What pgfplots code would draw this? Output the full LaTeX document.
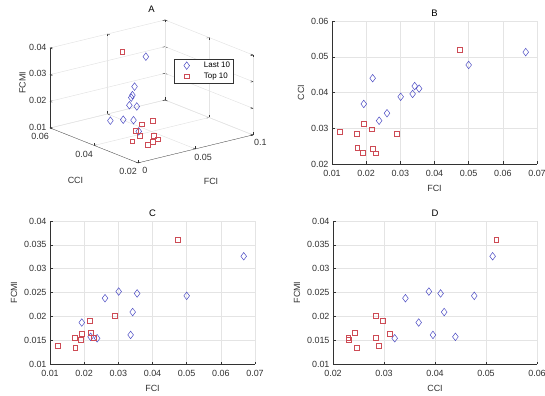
\documentclass[border=0pt]{standalone}
\usepackage{fontspec}
\setmainfont{Liberation Sans}
\usepackage{pgfplots}
\usepackage{pgfplotstable}
\pgfplotsset{compat=1.18}
\definecolor{mblue}{RGB}{75,75,195}
\definecolor{mred}{RGB}{205,75,85}
\definecolor{gridgray}{RGB}{228,228,228}
\definecolor{axgray}{RGB}{50,50,50}

\pgfplotstableread{
fci cci fcmi
0.0219 0.0440 0.0157
0.0193 0.0368 0.0187
0.0238 0.0321 0.0154
0.0261 0.0342 0.0238
0.0301 0.0388 0.0252
0.0336 0.0396 0.0161
0.0342 0.0418 0.0209
0.0355 0.0411 0.0248
0.0500 0.0477 0.0243
0.0667 0.0513 0.0326
}\lastten

\pgfplotstableread{
fci cci fcmi
0.0123 0.0290 0.0139
0.0173 0.0284 0.0155
0.0194 0.0312 0.0163
0.0216 0.0297 0.0191
0.0174 0.0246 0.0134
0.0190 0.0231 0.0151
0.0219 0.0242 0.0165
0.0229 0.0230 0.0155
0.0289 0.0284 0.0201
0.0475 0.0520 0.0361
}\topten

\pgfplotsset{
  common/.style={
    grid=major, grid style={draw=gridgray, line width=0.5pt},
    tick align=inside, major tick length=2.5bp,
    every tick/.style={axgray, line width=0.4pt},
    tick label style={font=\fontsize{9}{10}\selectfont, text=axgray},
    label style={font=\fontsize{9}{10}\selectfont, text=axgray},
    title style={font=\fontsize{9.5}{10}\selectfont, text=black},
    /pgf/number format/assume math mode=true,
    scaled ticks=false,
    tick label style={/pgf/number format/fixed, /pgf/number format/precision=3},
  },
  flat/.style={
    common,
    scale only axis, width=205bp, height=143bp,
    axis x line*=bottom, axis y line*=left,
    axis line style={draw=axgray, line width=0.5pt},
    title style={yshift=-5bp},
    xticklabel style={yshift=-3bp},
    xlabel style={yshift=-2bp},
  },
  lastm/.style={only marks, mark=diamond, mark size=3.8bp, mark options={draw=mblue, line width=0.5pt, fill=none}},
  topm/.style={only marks, mark=square, mark size=2.4bp, mark options={draw=mred, line width=0.5pt, fill=none}},
  wideleg/.style={legend image code/.code={\path (0bp,0bp) (26bp,0bp); \draw[##1] plot coordinates {(11bp,0bp)};}},
}

\begin{document}
\begin{tikzpicture}

% ---- A (3D) ----
\begin{axis}[
  common,
  at={(50bp,233bp)}, anchor=south west,
  x={(1150bp,280bp)}, y={(-2200bp,875bp)}, z={(0bp,2667bp)},
  xmin=0, xmax=0.1, ymin=0.02, ymax=0.06, zmin=0.01, zmax=0.04,
  xtick={0,0.05,0.1}, ytick={0.02,0.04,0.06}, ztick={0.01,0.02,0.03,0.04},
  axis line style={draw=none},
  xticklabel style={xshift=2bp},
  yticklabel style={xshift=-3bp},
  xlabel={FCI}, ylabel={CCI}, zlabel={FCMI},
  xlabel style={yshift=-5bp, xshift=-3bp},
  ylabel style={yshift=-6bp, xshift=4bp},
  zlabel style={yshift=-4bp, xshift=3bp},
  title={A}, title style={yshift=-2bp},
  legend style={at={(0.61,0.73)}, anchor=north west, font=\fontsize{8}{9}\selectfont,
    draw=axgray, line width=0.4pt, fill=white, inner sep=1.5pt, row sep=0pt,
    nodes={inner ysep=1.8pt}},
  legend cell align=left,
]
\addplot3[lastm, wideleg] table[x=fci,y=cci,z=fcmi] {\lastten};
\addlegendentry{Last 10}
\addplot3[topm, wideleg] table[x=fci,y=cci,z=fcmi] {\topten};
\addlegendentry{Top 10}
\draw[axgray, line width=0.5pt] (axis cs:0,0.06,0.01) -- (axis cs:0,0.02,0.01) -- (axis cs:0.1,0.02,0.01);
\draw[axgray, line width=0.5pt] (axis cs:0,0.06,0.01) -- (axis cs:0,0.06,0.04);
\end{axis}

% ---- B ----
\begin{axis}[
  flat, at={(332bp,232bp)}, anchor=south west,
  xmin=0.01, xmax=0.07, ymin=0.02, ymax=0.06,
  xtick={0.01,0.02,0.03,0.04,0.05,0.06,0.07}, ytick={0.02,0.03,0.04,0.05,0.06},
  xlabel={FCI}, ylabel={CCI}, title={B},
]
\addplot[lastm] table[x=fci,y=cci] {\lastten};
\addplot[topm] table[x=fci,y=cci] {\topten};
\end{axis}

% ---- C ----
\begin{axis}[
  flat, at={(50bp,32bp)}, anchor=south west,
  xmin=0.01, xmax=0.07, ymin=0.01, ymax=0.04,
  xtick={0.01,0.02,0.03,0.04,0.05,0.06,0.07}, ytick={0.01,0.015,0.02,0.025,0.03,0.035,0.04},
  xlabel={FCI}, ylabel={FCMI}, title={C},
]
\addplot[lastm] table[x=fci,y=fcmi] {\lastten};
\addplot[topm] table[x=fci,y=fcmi] {\topten};
\end{axis}

% ---- D ----
\begin{axis}[
  flat, at={(333bp,32bp)}, anchor=south west, width=204bp,
  xmin=0.02, xmax=0.06, ymin=0.01, ymax=0.04,
  xtick={0.02,0.03,0.04,0.05,0.06}, ytick={0.01,0.015,0.02,0.025,0.03,0.035,0.04},
  xlabel={CCI}, ylabel={FCMI}, title={D},
]
\addplot[lastm] table[x=cci,y=fcmi] {\lastten};
\addplot[topm] table[x=cci,y=fcmi] {\topten};
\end{axis}

\pgfresetboundingbox
\useasboundingbox (0,0) rectangle (545bp,396bp);
\end{tikzpicture}
\end{document}
